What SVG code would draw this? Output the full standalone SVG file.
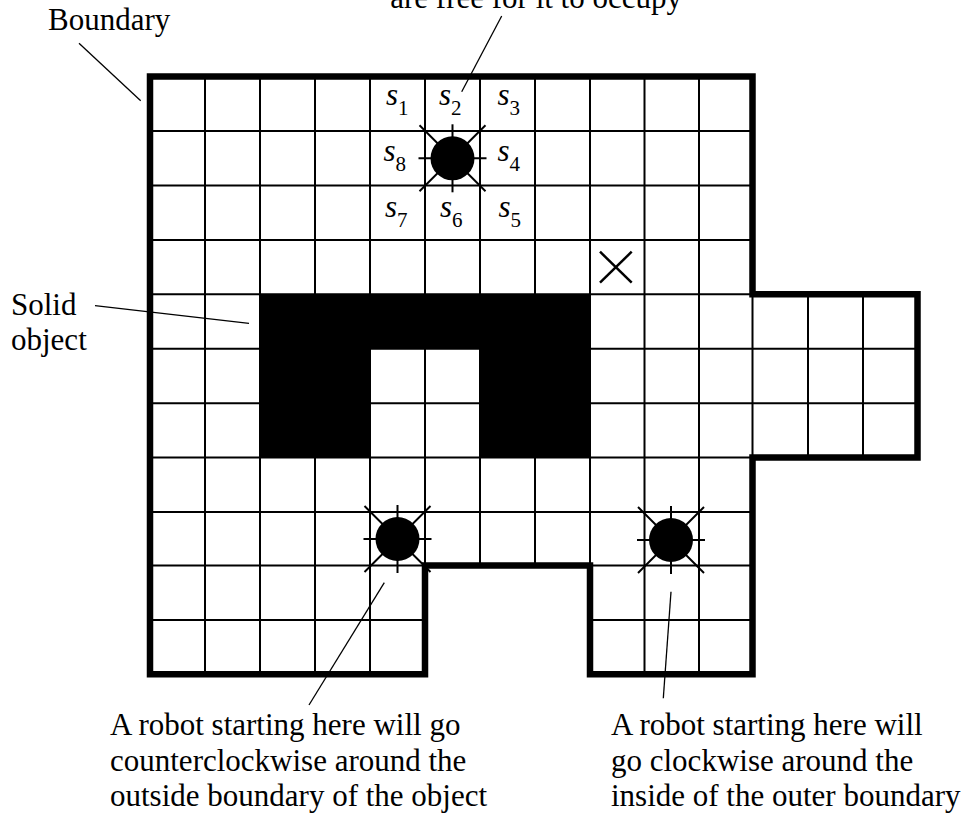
<svg xmlns="http://www.w3.org/2000/svg" width="968" height="817" viewBox="0 0 968 817">
<style>
  text { font-family: "Liberation Serif", "Times New Roman", serif; font-size: 31px; fill: #000; }
  .grid line { stroke: #000; stroke-width: 2; }
  .leader { stroke: #000; stroke-width: 1.3; fill: none; }
  .ray { stroke: #000; stroke-width: 2; }
  .sub { font-size: 21px; font-style: normal; }
  .it { font-style: italic; }
</style>
<defs>
  <clipPath id="area">
    <path d="M150,76.5 H752.5 V294.3 H917.5 V457.5 H752.5 V674.3 H590 V565.5 H425 V674.3 H150 Z"/>
  </clipPath>
  <g id="robot">
    <line class="ray" x1="-34" y1="0" x2="34" y2="0"/>
    <line class="ray" x1="0" y1="-34" x2="0" y2="34"/>
    <line class="ray" x1="-33" y1="-33" x2="33" y2="33"/>
    <line class="ray" x1="-33" y1="33" x2="33" y2="-33"/>
    <circle r="22" fill="#000"/>
  </g>
</defs>
<rect width="968" height="817" fill="#fff"/>
<g id="floor">
  <path d="M150,76.5 H752.5 V294.3 H917.5 V457.5 H752.5 V674.3 H590 V565.5 H425 V674.3 H150 Z" fill="#fff"/>
  <g class="grid" clip-path="url(#area)">
    <line x1="205" y1="70" x2="205" y2="680"/>
    <line x1="260" y1="70" x2="260" y2="680"/>
    <line x1="315" y1="70" x2="315" y2="680"/>
    <line x1="370" y1="70" x2="370" y2="680"/>
    <line x1="480" y1="70" x2="480" y2="680"/>
    <line x1="535" y1="70" x2="535" y2="680"/>
    <line x1="644.5" y1="70" x2="644.5" y2="680"/>
    <line x1="699" y1="70" x2="699" y2="680"/>
    <line x1="425" y1="70" x2="425" y2="680"/>
    <line x1="590" y1="70" x2="590" y2="680"/>
    <line x1="752.5" y1="70" x2="752.5" y2="680"/>
    <line x1="808" y1="70" x2="808" y2="680"/>
    <line x1="863" y1="70" x2="863" y2="680"/>
    <line x1="140" y1="131" x2="925" y2="131"/>
    <line x1="140" y1="185.5" x2="925" y2="185.5"/>
    <line x1="140" y1="240" x2="925" y2="240"/>
    <line x1="140" y1="294.3" x2="925" y2="294.3"/>
    <line x1="140" y1="348.7" x2="925" y2="348.7"/>
    <line x1="140" y1="403.2" x2="925" y2="403.2"/>
    <line x1="140" y1="457.5" x2="925" y2="457.5"/>
    <line x1="140" y1="512" x2="925" y2="512"/>
    <line x1="140" y1="565.5" x2="925" y2="565.5"/>
    <line x1="140" y1="620" x2="925" y2="620"/>
  </g>
</g>
<g id="solid-object">
  <path d="M260,294.3 H590 V457.5 H480 V348.7 H370 V457.5 H260 Z" fill="#000"/>
</g>
<g id="boundary">
  <path d="M150,76.5 H752.5 V294.3 H917.5 V457.5 H752.5 V674.3 H590 V565.5 H425 V674.3 H150 Z" fill="none" stroke="#000" stroke-width="6.5" stroke-linejoin="miter"/>
</g>
<g id="goal">
  <line x1="600" y1="251.7" x2="631.7" y2="282.7" stroke="#000" stroke-width="2.5"/>
  <line x1="600" y1="282.7" x2="631.7" y2="251.7" stroke="#000" stroke-width="2.5"/>
</g>
<g id="robot-top"><use href="#robot" x="452.5" y="158.3"/></g>
<g id="robot-left"><use href="#robot" x="397.5" y="539"/></g>
<g id="robot-right"><use href="#robot" x="671" y="540"/></g>
<g id="sensors">
  <text x="386" y="105"><tspan class="it">s</tspan><tspan class="sub" dy="10">1</tspan></text>
  <text x="439" y="105"><tspan class="it">s</tspan><tspan class="sub" dy="10">2</tspan></text>
  <text x="497.5" y="105"><tspan class="it">s</tspan><tspan class="sub" dy="10">3</tspan></text>
  <text x="383.5" y="160.5"><tspan class="it">s</tspan><tspan class="sub" dy="10">8</tspan></text>
  <text x="497.5" y="160.5"><tspan class="it">s</tspan><tspan class="sub" dy="10">4</tspan></text>
  <text x="385" y="216.5"><tspan class="it">s</tspan><tspan class="sub" dy="10">7</tspan></text>
  <text x="440" y="216.5"><tspan class="it">s</tspan><tspan class="sub" dy="10">6</tspan></text>
  <text x="498.5" y="216.5"><tspan class="it">s</tspan><tspan class="sub" dy="10">5</tspan></text>
</g>
<g id="connectors">
  <line class="leader" x1="79" y1="43.3" x2="140.7" y2="100.7"/>
  <line class="leader" x1="501.7" y1="16" x2="461.7" y2="91.7"/>
  <line class="leader" x1="95" y1="305.7" x2="249" y2="323.3"/>
  <line class="leader" x1="384.3" y1="582.7" x2="309" y2="705"/>
  <line class="leader" x1="671" y1="591.7" x2="663.3" y2="698.3"/>
</g>
<g id="labels">
  <text x="48" y="30">Boundary</text>
  <text x="682" y="8" text-anchor="end">are free for it to occupy</text>
  <text x="11" y="315">Solid</text>
  <text x="11" y="350">object</text>
  <text x="110" y="735">A robot starting here will go</text>
  <text x="110" y="770.5">counterclockwise around the</text>
  <text x="110" y="806">outside boundary of the object</text>
  <text x="611" y="735">A robot starting here will</text>
  <text x="611" y="770.5">go clockwise around the</text>
  <text x="611" y="806">inside of the outer boundary</text>
</g>
</svg>
